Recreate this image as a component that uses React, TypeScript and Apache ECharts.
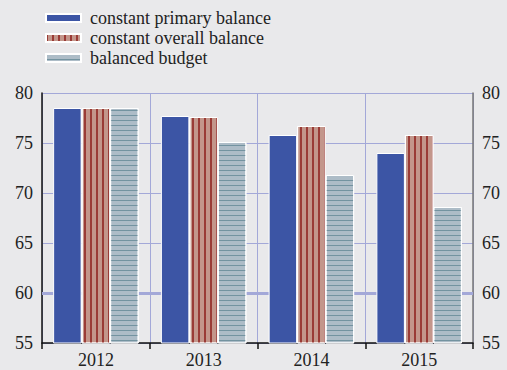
import React, { useEffect, useRef } from "react";
import * as echarts from "echarts";

const categories = ["2012", "2013", "2014", "2015"];
const primaryBalance = [78.5, 77.7, 75.8, 74.0];
const overallBalance = [78.5, 77.6, 76.7, 75.8];
const balancedBudget = [78.5, 75.1, 71.8, 68.6];
const seriesNames = ["constant primary balance", "constant overall balance", "balanced budget"];
const referenceLevel = 60;

const FONT = "'Liberation Serif', 'Times New Roman', serif";
const GRID_COLOR = "#a3a8d8";

export default function App() {
  const ref = useRef<HTMLDivElement>(null);
  useEffect(() => {
    if (!ref.current) return;
    const chart = echarts.init(ref.current, null, { renderer: "svg" });
    const yAxisBase = {
      type: "value",
      min: 55,
      max: 80,
      interval: 5,
      axisLabel: { fontFamily: FONT, fontSize: 18, color: "#222", margin: 9 },
      axisTick: { show: false },
    };
    chart.setOption({
      animation: false,
      backgroundColor: "#e9e9eb",
      legend: {
        data: seriesNames,
        orient: "vertical",
        left: 40,
        top: 4,
        itemWidth: 35,
        itemHeight: 8,
        itemGap: 2,
        icon: "rect",
        textStyle: { fontFamily: FONT, fontSize: 18, color: "#222", lineHeight: 18, padding: [0, 0, 0, 4] },
      },
      grid: { left: 42, right: 34, top: 93, bottom: 27 },
      xAxis: {
        type: "category",
        data: categories,
        axisLine: { show: true, lineStyle: { color: "#111", width: 1.5 } },
        axisTick: { show: true, inside: false, length: 6, lineStyle: { color: "#111", width: 1.5 } },
        axisLabel: { fontFamily: FONT, fontSize: 18, color: "#222", margin: 8 },
        splitLine: { show: true, lineStyle: { color: GRID_COLOR, width: 1 } },
      },
      yAxis: [
        {
          ...yAxisBase,
          position: "left",
          axisLine: { show: true, lineStyle: { color: "#111", width: 1.5 } },
          splitLine: { show: true, lineStyle: { color: GRID_COLOR, width: 1 } },
        },
        {
          ...yAxisBase,
          position: "right",
          axisLine: { show: true, lineStyle: { color: "#777", width: 1.5 } },
          splitLine: { show: false },
        },
      ],
      series: [
        {
          name: "ref",
          type: "line",
          data: [],
          z: 1,
          markLine: {
            silent: true,
            z: 1,
            symbol: "none",
            label: { show: false },
            lineStyle: { color: GRID_COLOR, width: 3, type: "solid" },
            data: [{ yAxis: referenceLevel }],
          },
        },
        {
          name: seriesNames[0],
          type: "bar",
          data: primaryBalance,
          barWidth: 28.5,
          barGap: "0%",
          z: 3,
          itemStyle: { color: "#3c55a5", borderColor: "#ffffff", borderWidth: 1 },
        },
        {
          name: seriesNames[1],
          type: "bar",
          data: overallBalance,
          barWidth: 28.5,
          barGap: "0%",
          z: 3,
          itemStyle: {
            color: "#c3968b",
            borderColor: "#ffffff",
            borderWidth: 1,
            decal: {
              symbol: "rect",
              symbolSize: 1,
              color: "#9a3b36",
              dashArrayX: [1.2, 3.8],
              dashArrayY: [5, 0],
              rotation: 0,
            },
          },
        },
        {
          name: seriesNames[2],
          type: "bar",
          data: balancedBudget,
          barWidth: 28.5,
          barGap: "0%",
          z: 3,
          itemStyle: {
            color: "#adbcc7",
            borderColor: "#ffffff",
            borderWidth: 1,
            decal: {
              symbol: "rect",
              symbolSize: 1,
              color: "#7393a0",
              dashArrayX: [5, 0],
              dashArrayY: [1, 3.6],
              rotation: 0,
            },
          },
        },
      ],
    });
    return () => chart.dispose();
  }, []);
  return (
    <div
      ref={ref}
      style={{ position: "absolute", left: 0, top: 0, width: 507, height: 370 }}
    />
  );
}
